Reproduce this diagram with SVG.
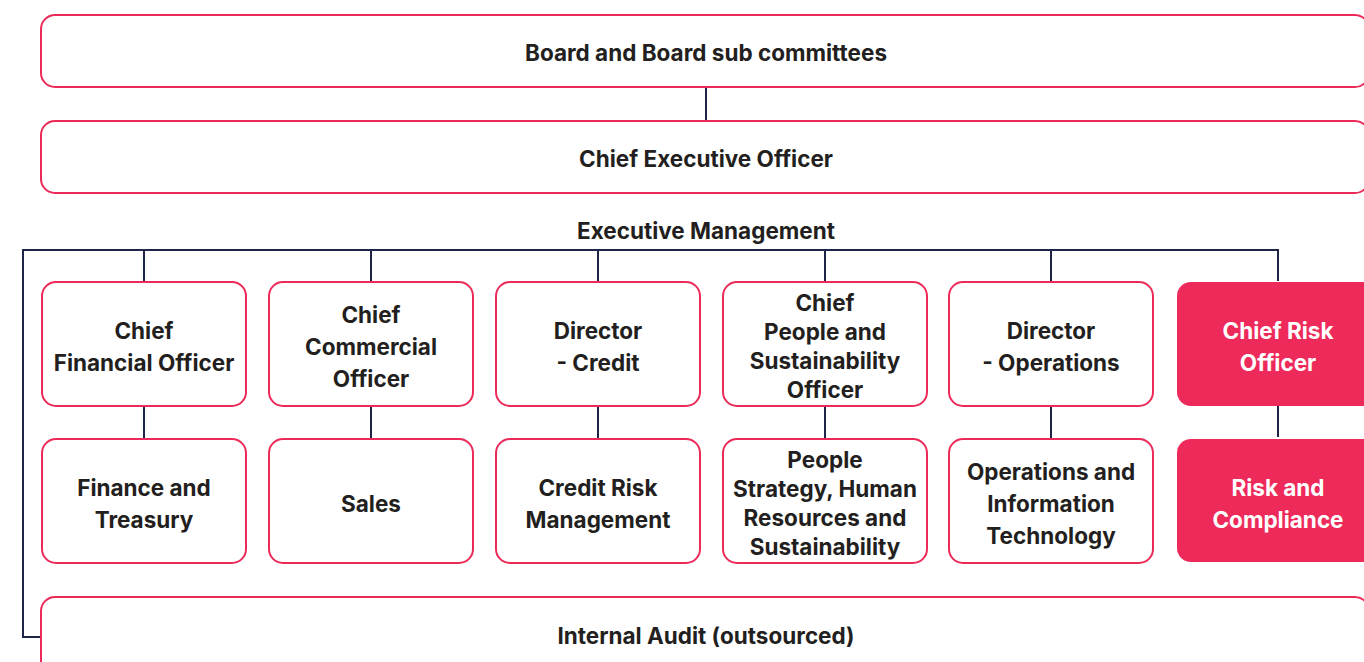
<svg xmlns="http://www.w3.org/2000/svg" width="1364" height="662" viewBox="0 0 1364 662">
  <style>
    .box { fill: #ffffff; stroke: #ec2a59; stroke-width: 2; }
    .hot { fill: #ee2a5b; stroke: none; }
    .lbl { font-family: Inter, "Liberation Sans", sans-serif; font-weight: 700; font-size: 22.5px; fill: #231f20; text-anchor: middle; dominant-baseline: central; }
    .inv { fill: #ffffff; }
    .wire { fill: none; stroke: #1e2548; stroke-width: 2; }
  </style>
  <rect width="1364" height="662" fill="#ffffff"/>

  <!-- connectors -->
  <g id="connectors" class="wire">
    <path d="M706 87 V120"/>
    <path d="M41 637 H23 V250 H1278 V281"/>
    <path d="M144 250 V281"/>
    <path d="M371 250 V281"/>
    <path d="M598 250 V281"/>
    <path d="M825 250 V281"/>
    <path d="M1051 250 V281"/>
    <path d="M144 407 V438"/>
    <path d="M371 407 V438"/>
    <path d="M598 407 V438"/>
    <path d="M825 407 V438"/>
    <path d="M1051 407 V438"/>
    <path d="M1278 406 V437"/>
  </g>

  <g id="board">
    <rect class="box" x="41" y="15" width="1328" height="72" rx="14"/>
    <text class="lbl" x="706" y="52">Board and Board sub committees</text>
  </g>
  <g id="ceo">
    <rect class="box" x="41" y="121" width="1328" height="72" rx="14"/>
    <text class="lbl" x="706" y="158">Chief Executive Officer</text>
  </g>
  <g id="exec-management">
    <text class="lbl" x="706" y="230">Executive Management</text>
  </g>

  <!-- first row -->
  <g id="cfo">
    <rect class="box" x="42" y="282" width="204" height="124" rx="14"/>
    <text class="lbl" x="144" y="330">Chief</text>
    <text class="lbl" x="144" y="362">Financial Officer</text>
  </g>
  <g id="cco">
    <rect class="box" x="269" y="282" width="204" height="124" rx="14"/>
    <text class="lbl" x="371" y="314">Chief</text>
    <text class="lbl" x="371" y="346">Commercial</text>
    <text class="lbl" x="371" y="378">Officer</text>
  </g>
  <g id="director-credit">
    <rect class="box" x="496" y="282" width="204" height="124" rx="14"/>
    <text class="lbl" x="598" y="330">Director</text>
    <text class="lbl" x="598" y="362">- Credit</text>
  </g>
  <g id="cpso">
    <rect class="box" x="723" y="282" width="204" height="124" rx="14"/>
    <text class="lbl" x="825" y="302">Chief</text>
    <text class="lbl" x="825" y="331">People and</text>
    <text class="lbl" x="825" y="360">Sustainability</text>
    <text class="lbl" x="825" y="389">Officer</text>
  </g>
  <g id="director-operations">
    <rect class="box" x="949" y="282" width="204" height="124" rx="14"/>
    <text class="lbl" x="1051" y="330">Director</text>
    <text class="lbl" x="1051" y="362">- Operations</text>
  </g>
  <g id="cro">
    <rect class="hot" x="1177" y="282" width="204" height="124" rx="14"/>
    <text class="lbl inv" x="1278" y="330">Chief Risk</text>
    <text class="lbl inv" x="1278" y="362">Officer</text>
  </g>

  <!-- second row -->
  <g id="finance-treasury">
    <rect class="box" x="42" y="439" width="204" height="124" rx="14"/>
    <text class="lbl" x="144" y="487">Finance and</text>
    <text class="lbl" x="144" y="519">Treasury</text>
  </g>
  <g id="sales">
    <rect class="box" x="269" y="439" width="204" height="124" rx="14"/>
    <text class="lbl" x="371" y="503">Sales</text>
  </g>
  <g id="credit-risk">
    <rect class="box" x="496" y="439" width="204" height="124" rx="14"/>
    <text class="lbl" x="598" y="487">Credit Risk</text>
    <text class="lbl" x="598" y="519">Management</text>
  </g>
  <g id="people-strategy">
    <rect class="box" x="723" y="439" width="204" height="124" rx="14"/>
    <text class="lbl" x="825" y="459">People</text>
    <text class="lbl" x="825" y="488">Strategy, Human</text>
    <text class="lbl" x="825" y="517">Resources and</text>
    <text class="lbl" x="825" y="546">Sustainability</text>
  </g>
  <g id="operations-it">
    <rect class="box" x="949" y="439" width="204" height="124" rx="14"/>
    <text class="lbl" x="1051" y="471">Operations and</text>
    <text class="lbl" x="1051" y="503">Information</text>
    <text class="lbl" x="1051" y="535">Technology</text>
  </g>
  <g id="risk-compliance">
    <rect class="hot" x="1177" y="439" width="204" height="123" rx="14"/>
    <text class="lbl inv" x="1278" y="487">Risk and</text>
    <text class="lbl inv" x="1278" y="519">Compliance</text>
  </g>

  <g id="internal-audit">
    <rect class="box" x="41" y="597" width="1328" height="90" rx="14"/>
    <text class="lbl" x="706" y="635">Internal Audit (outsourced)</text>
  </g>
</svg>
